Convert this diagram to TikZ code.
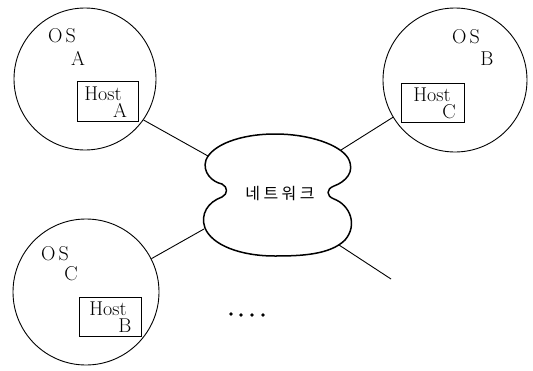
\documentclass[tikz,border=0pt]{standalone}
\usepackage{fontspec}
\newfontfamily\krfont{Noto Sans CJK KR}
\begin{document}
\begin{tikzpicture}[x=1pt,y=-1pt,
  osring/.style={draw,circle,line width=0.9pt,inner sep=0pt},
  hostbox/.style={draw,rectangle,line width=0.9pt,inner sep=0pt},
  lbl/.style={inner sep=0pt,anchor=base,font=\fontsize{20}{22}\selectfont},
  link/.style={line width=0.9pt},
  cloudline/.style={line width=1.5pt,line join=round},
  dotmark/.style={fill=black,circle,inner sep=0pt,minimum size=3.6pt}]
\useasboundingbox (0,0) rectangle (533,370);

% operating-system rings
\node[osring,minimum size=142pt] (osa) at (85,79) {};
\node[osring,minimum size=144pt] (osb) at (455,80) {};
\node[osring,minimum size=146pt] (osc) at (86,292) {};

% host boxes
\node[hostbox,minimum width=61pt,minimum height=40pt] (hosta) at (107.5,101) {};
\node[hostbox,minimum width=63pt,minimum height=39pt] (hostc) at (432.5,102.5) {};
\node[hostbox,minimum width=62pt,minimum height=39pt] (hostb) at (110,316.5) {};

% labels
\node[lbl] (osaT) at (62,42) {O\kern3pt S};
\node[lbl] (osaL) at (78,65) {A};
\node[lbl] (hostaT) at (103,100) {Host};
\node[lbl] (hostaL) at (120,117) {A};

\node[lbl] (osbT) at (466,43) {O\kern3pt S};
\node[lbl] (osbL) at (487,65) {B};
\node[lbl] (hostcT) at (432,101) {Host};
\node[lbl] (hostcL) at (449,118.5) {C};

\node[lbl] (oscT) at (55,260) {O\kern3pt S};
\node[lbl] (oscL) at (71,280) {C};
\node[lbl] (hostbT) at (108,315) {Host};
\node[lbl] (hostbL) at (125,332) {B};

% network cloud
\draw[cloudline] (222,184)
  .. controls (212,182) and (202,172) .. (206,160)
  .. controls (212,145) and (240,134) .. (275,134)
  .. controls (310,134) and (340,145) .. (348,158)
  .. controls (356,172) and (345,182) .. (334,186)
  .. controls (326,189) and (326,196) .. (334,199)
  .. controls (350,205) and (358,225) .. (345,240)
  .. controls (330,255) and (300,256) .. (275,256)
  .. controls (240,256) and (212,245) .. (205,228)
  .. controls (200,214) and (208,202) .. (222,197)
  .. controls (228,194) and (228,187) .. (222,184)
  -- cycle;
\node[inner sep=0pt,anchor=base] (net) at (280,199)
  {\krfont\fontsize{16}{18}\selectfont 네\kern3.5pt 트\kern3.5pt 워\kern3.5pt 크};

% attach points on the cloud outline
\coordinate (cA) at (208,156);
\coordinate (cB) at (341,150);
\coordinate (cC) at (204,229);
\coordinate (cD) at (339,245);
\coordinate (free) at (391,279);

% connectors
\draw[link] (osa.-35) -- (cA);
\draw[link] (osb.-149) -- (cB);
\draw[link] (osc.27) -- (cC);
\draw[link] (cD) -- (free);

% ellipsis dots
\node[dotmark] (d1) at (231,314) {};
\node[dotmark] (d2) at (241,315) {};
\node[dotmark] (d3) at (252,315) {};
\node[dotmark] (d4) at (263,315) {};
\end{tikzpicture}
\end{document}
